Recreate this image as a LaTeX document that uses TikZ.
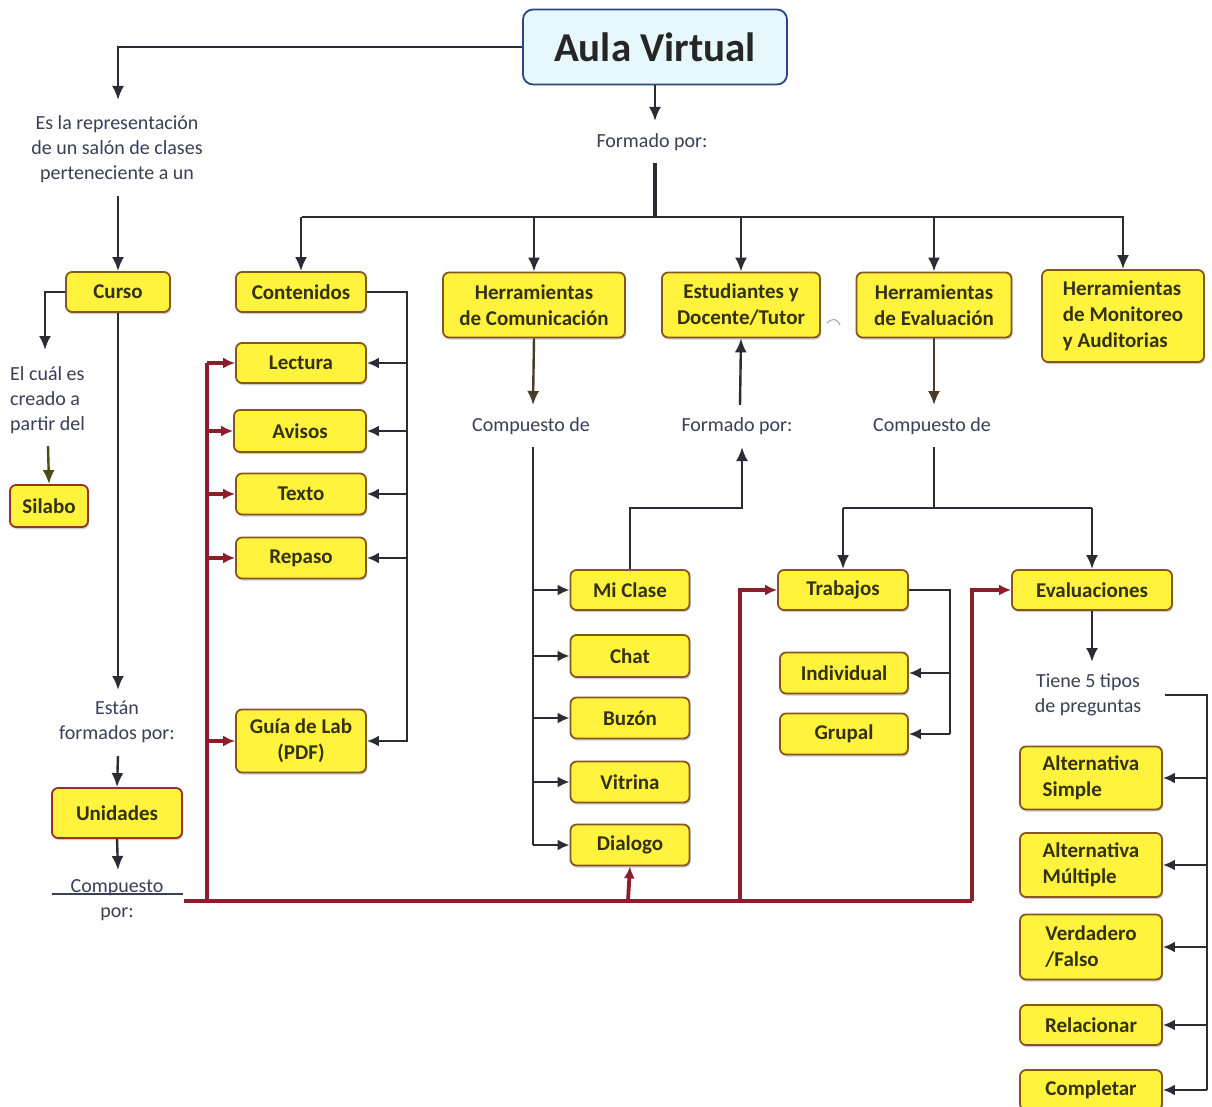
\documentclass[tikz,border=0pt]{standalone}
\usepackage{fontspec}
\setmainfont{Carlito}
\usetikzlibrary{arrows.meta,shadows}

\definecolor{boxfill}{HTML}{FFF33D}
\definecolor{boxedge}{HTML}{86561F}
\definecolor{boxink}{HTML}{34320E}
\definecolor{noteink}{HTML}{3A3E56}
\definecolor{wire}{HTML}{2C2C36}
\definecolor{brownwire}{HTML}{4A3A28}
\definecolor{olivewire}{HTML}{4C4A18}
\definecolor{maroon}{HTML}{8C1E2C}
\definecolor{titlefill}{HTML}{E6F8FB}
\definecolor{titleedge}{HTML}{2A4784}

\tikzset{
  x=1pt, y=-1pt,
  box/.style={draw=boxedge, line width=1.8pt, fill=boxfill, rounded corners=6pt,
    font=\fontsize{21}{26}\selectfont\bfseries, text=boxink, inner sep=0pt, align=center,
    drop shadow={opacity=0.4, shadow xshift=1pt, shadow yshift=-2pt}},
  note/.style={font=\fontsize{20}{25}\selectfont, text=noteink, align=center, inner sep=0pt},
  wire/.style={draw=wire, line width=2.4pt},
  arr/.style={wire, -{Latex[length=14pt,width=12pt]}},
  sidearr/.style={wire, -{Latex[length=12pt,width=11pt]}},
  redwire/.style={draw=maroon, line width=3.8pt},
  redarr/.style={redwire, -{Latex[length=12pt,width=11pt]}},
}

\begin{document}
\begin{tikzpicture}
\useasboundingbox (0,0) rectangle (1212,1107);
\fill[white] (0,0) rectangle (1212,1107);

% ---- title
\node[draw=titleedge, line width=1.8pt, fill=titlefill, rounded corners=10pt,
      minimum width=264pt, minimum height=75pt, inner sep=0pt,
      font=\fontsize{41}{44}\selectfont\bfseries, text=black!85]
      (title) at (655,47) {Aula Virtual};

% ---- left column
\node[note] (es) at (117,149) {Es la representación\\de un salón de clases\\perteneciente a un};
\node[box, minimum width=104pt, minimum height=40pt] (curso) at (118,292) {Curso};
\node[note, anchor=west, align=left] (elcual) at (10,400) {El cuál es\\creado a\\partir del};
\node[box, minimum width=78pt, minimum height=42pt, draw=maroon!80!brown] (silabo) at (49,506) {Silabo};
\node[note] (estan) at (117,722) {Están\\formados por:};
\node[box, minimum width=130pt, minimum height=50pt, draw=maroon!80!brown] (unidades) at (117,813) {Unidades};
\node[note] (compor) at (117,900) {Compuesto\\por:};

% ---- top level branches
\node[note] (formado) at (652,142) {Formado por:};
\node[box, minimum width=130pt, minimum height=40pt] (contenidos) at (301,292) {Contenidos};
\node[box, minimum width=182pt, minimum height=65pt] (herrcom) at (534,305) {Herramientas\\de Comunicación};
\node[box, minimum width=158pt, minimum height=65pt] (estud) at (741,305) {Estudiantes y\\Docente/Tutor};
\node[box, minimum width=155pt, minimum height=65pt] (herreval) at (934,305) {Herramientas\\de Evaluación};
\node[box, minimum width=162pt, minimum height=92pt, align=left] (herrmon) at (1123,316) {Herramientas\\de Monitoreo\\y Auditorias};

% ---- contents
\node[box, minimum width=130pt, minimum height=40pt] (lectura) at (301,363) {Lectura};
\node[box, minimum width=132pt, minimum height=42pt] (avisos) at (300,431) {Avisos};
\node[box, minimum width=130pt, minimum height=41pt] (texto) at (301,494) {Texto};
\node[box, minimum width=130pt, minimum height=41pt] (repaso) at (301,558) {Repaso};
\node[box, minimum width=130pt, minimum height=63pt] (guia) at (301,741) {Guía de Lab\\(PDF)};

% ---- communication tools
\node[note] (compde1) at (531,426) {Compuesto de};
\node[note] (formado2) at (737,426) {Formado por:};
\node[box, minimum width=119pt, minimum height=40pt] (miclase) at (630,590) {Mi Clase};
\node[box, minimum width=119pt, minimum height=42pt] (chat) at (630,656) {Chat};
\node[box, minimum width=119pt, minimum height=41pt] (buzon) at (630,718) {Buzón};
\node[box, minimum width=119pt, minimum height=41pt] (vitrina) at (630,782) {Vitrina};
\node[box, minimum width=119pt, minimum height=41pt] (dialogo) at (630,845) {Dialogo};

% ---- evaluation tools
\node[note] (compde2) at (932,426) {Compuesto de};
\node[box, minimum width=130pt, minimum height=40pt] (trabajos) at (843,590) {Trabajos};
\node[box, minimum width=128pt, minimum height=41pt] (individual) at (844,673) {Individual};
\node[box, minimum width=128pt, minimum height=41pt] (grupal) at (844,734) {Grupal};
\node[box, minimum width=160pt, minimum height=40pt] (evaluaciones) at (1092,590) {Evaluaciones};
\node[note] (tiene) at (1088,695) {Tiene 5 tipos\\de preguntas};
\node[box, minimum width=142pt, minimum height=63pt, align=left] (altsimple) at (1091,778) {Alternativa\\Simple};
\node[box, minimum width=142pt, minimum height=64pt, align=left] (altmult) at (1091,865) {Alternativa\\Múltiple};
\node[box, minimum width=142pt, minimum height=65pt, align=left] (verdad) at (1091,947) {Verdadero\\/Falso};
\node[box, minimum width=142pt, minimum height=40pt] (relacionar) at (1091,1025) {Relacionar};
\node[box, minimum width=142pt, minimum height=40pt] (completar) at (1091,1090) {Completar};

% ---- bend points and free ends
\coordinate (esTip) at (118,100);
\coordinate (esOut) at (118,196);
\coordinate (elTip) at (45,350);
\coordinate (elOut) at (48,446);
\coordinate (estTip) at (118,690);
\coordinate (estOut) at (118,756);
\coordinate (uniTip) at (118,870);
\coordinate (formTip) at (655,121);
\coordinate (formOut) at (655,163);
\coordinate (hub) at (655,217);
\coordinate (hubL) at (302,217);
\coordinate (hubR) at (1124,217);
\coordinate (busC) at (407,742);
\coordinate (cd1Tip) at (533,405);
\coordinate (cd1Out) at (533,447);
\coordinate (busM) at (533,845);
\coordinate (fpTip) at (742,447);
\coordinate (fpBend) at (742,508);
\coordinate (fpOut) at (740,405);
\coordinate (cd2Tip) at (934,405);
\coordinate (cd2Out) at (934,447);
\coordinate (cd2Hub) at (934,508);
\coordinate (busT) at (950,734);
\coordinate (tieneTip) at (1092,662);
\coordinate (tieneOut) at (1165,695);
\coordinate (busE) at (1207,1090);
\coordinate (redStart) at (184,901);
\coordinate (redEnd) at (972,901);
\coordinate (redL) at (207,901);
\coordinate (redD) at (628,901);
\coordinate (redT) at (740,901);

% ---- left column connectors
\draw[arr] (title.west) -| (esTip);
\draw[arr] (esOut) -- (curso.north);
\draw[arr] (curso.west) -| (elTip);
\draw[arr, draw=olivewire] (elOut) -- (silabo.north);
\draw[arr] (curso.south) -- (estTip);
\draw[arr] (estOut) -- (unidades.north);
\draw[arr] (unidades.south) -- (uniTip);
\draw[draw=noteink, line width=1.8pt] (52,894) -- (183,894);

% ---- top distribution
\draw[arr] (title.south) -- (formTip);
\draw[wire, line width=3.5pt] (formOut) -- (hub);
\draw[wire] (hubL) -- (hubR);
\foreach \n in {contenidos,herrcom,estud,herreval,herrmon}
  \draw[arr] (\n.north |- hub) -- (\n.north);

% ---- contents bus
\draw[wire] (contenidos.east) -| (busC);
\foreach \n in {lectura,avisos,texto,repaso,guia}
  \draw[sidearr] (\n.east -| busC) -- (\n.east);

% ---- communication bus
\draw[arr, draw=brownwire] (herrcom.south) -- (cd1Tip);
\draw[wire] (cd1Out) -- (busM);
\foreach \n in {miclase,chat,buzon,vitrina,dialogo}
  \draw[sidearr] (\n.west -| busM) -- (\n.west);
\draw[arr] (miclase.north) |- (fpBend) -- (fpTip);
\draw[arr] (fpOut) -- (estud.south);
\draw[draw=gray!70, line width=1pt] (827,323) .. controls (832,318) and (837,318) .. (840,325);

% ---- evaluation tree
\draw[arr, draw=brownwire] (herreval.south) -- (cd2Tip);
\draw[wire] (cd2Out) -- (cd2Hub);
\draw[wire] (trabajos.north |- cd2Hub) -- (evaluaciones.north |- cd2Hub);
\draw[arr] (trabajos.north |- cd2Hub) -- (trabajos.north);
\draw[arr] (evaluaciones.north |- cd2Hub) -- (evaluaciones.north);
\draw[wire] (trabajos.east) -| (busT);
\foreach \n in {individual,grupal}
  \draw[sidearr] (\n.east -| busT) -- (\n.east);
\draw[arr] (evaluaciones.south) -- (tieneTip);
\draw[wire] (tieneOut) -| (busE);
\foreach \n in {altsimple,altmult,verdad,relacionar,completar}
  \draw[sidearr] (\n.east -| busE) -- (\n.east);

% ---- unit composition (maroon)
\draw[redwire] (redStart) -- (redEnd);
\draw[redwire] (redL) -- (redL |- lectura.west);
\foreach \n in {lectura,avisos,texto,repaso,guia}
  \draw[redarr] (\n.west -| redL) -- (\n.west);
\draw[redarr] (redD) -- (dialogo.south);
\draw[redarr] (redT) |- (trabajos.west);
\draw[redarr] (redEnd) |- (evaluaciones.west);
\end{tikzpicture}
\end{document}
